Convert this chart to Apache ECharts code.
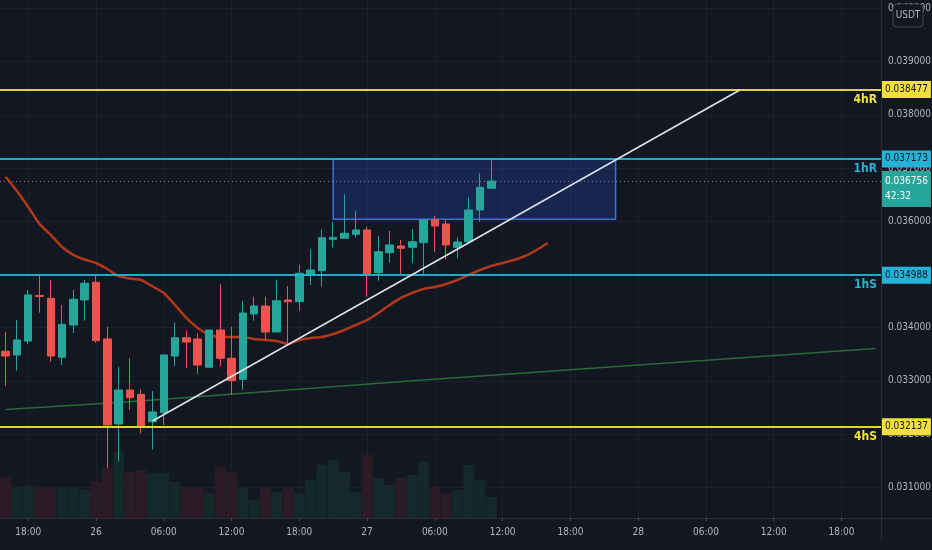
<!DOCTYPE html>
<html>
<head>
<meta charset="utf-8">
<script src="https://cdn.jsdelivr.net/npm/echarts@6/dist/echarts.min.js"></script>
<style>
html,body{margin:0;padding:0;background:#131722;}
#c{width:932px;height:550px;}
</style>
</head>
<body>
<div id="c"></div>
<script>
// ---- data ----
// hourly categories from 25 16:00 to 28 21:00
const categories = [];
for (let i = 0; i < 78; i++) {
  const t = 16 + i;
  const d = 25 + Math.floor(t / 24);
  const h = t % 24;
  categories.push(d + ' ' + (h < 10 ? '0' + h : h) + ':00');
}
// [open, close, low, high]
const candles = [
 [0.033557, 0.033468, 0.032904, 0.033925],
 [0.033487, 0.033769, 0.033192, 0.034145],
 [0.033750, 0.034615, 0.033694, 0.034709],
 [0.034605, 0.034587, 0.034282, 0.034972],
 [0.034553, 0.033468, 0.033361, 0.034897],
 [0.033444, 0.034064, 0.033299, 0.034427],
 [0.034051, 0.034534, 0.033901, 0.034709],
 [0.034521, 0.034835, 0.034132, 0.034897],
 [0.034854, 0.033756, 0.033718, 0.034972],
 [0.033788, 0.032171, 0.031363, 0.034019],
 [0.032190, 0.032829, 0.031481, 0.033267],
 [0.032829, 0.032684, 0.032453, 0.033425],
 [0.032748, 0.032153, 0.032015, 0.032842],
 [0.032233, 0.032416, 0.031714, 0.032810],
 [0.032403, 0.033487, 0.032171, 0.033487],
 [0.033468, 0.033812, 0.033280, 0.034094],
 [0.033812, 0.033731, 0.033237, 0.033944],
 [0.033788, 0.033299, 0.033130, 0.033895],
 [0.033256, 0.033957, 0.033256, 0.033957],
 [0.033957, 0.033425, 0.033280, 0.034816],
 [0.033425, 0.033004, 0.032735, 0.034019],
 [0.033030, 0.034277, 0.032829, 0.034508],
 [0.034258, 0.034408, 0.034132, 0.034583],
 [0.034408, 0.033919, 0.033769, 0.034583],
 [0.033919, 0.034508, 0.033919, 0.034897],
 [0.034521, 0.034489, 0.033707, 0.034784],
 [0.034489, 0.035023, 0.034320, 0.035179],
 [0.034991, 0.035085, 0.034803, 0.035474],
 [0.035072, 0.035692, 0.034771, 0.035850],
 [0.035662, 0.035699, 0.035512, 0.035993],
 [0.035681, 0.035775, 0.035681, 0.036508],
 [0.035756, 0.035837, 0.035699, 0.036194],
 [0.035837, 0.035010, 0.034583, 0.035899],
 [0.035034, 0.035429, 0.034884, 0.035724],
 [0.035410, 0.035555, 0.035222, 0.035818],
 [0.035536, 0.035493, 0.035010, 0.035649],
 [0.035512, 0.035617, 0.035222, 0.035856],
 [0.035598, 0.036025, 0.035010, 0.036025],
 [0.036025, 0.035912, 0.035429, 0.036100],
 [0.035950, 0.035555, 0.035286, 0.036025],
 [0.035512, 0.035611, 0.035305, 0.035699],
 [0.035617, 0.036213, 0.035617, 0.036451],
 [0.036213, 0.036639, 0.035993, 0.036902],
 [0.036621, 0.036756, 0.036621, 0.037152]
];
const volumes = [41,30,33,30,30,30,30,28,36,50,66,46,48,45,45,36,30,30,25,51,46,30,
                 18,30,26,31,25,38,53,58,46,26,63,40,33,40,43,56,31,25,28,53,38,21];
const maValues = [0.036839,0.036570,0.036269,0.035950,0.035743,0.035517,0.035367,0.035282,
  0.035216,0.035104,0.034972,0.034925,0.034897,0.034775,0.034653,0.034427,0.034183,0.033995,
  0.033872,0.033825,0.033825,0.033825,0.033788,0.033769,0.033750,0.033694,0.033769,0.033807,
  0.033825,0.033882,0.033957,0.034051,0.034145,0.034277,0.034427,0.034559,0.034653,0.034728,
  0.034765,0.034822,0.034897,0.034991,0.035085,0.035160,0.035216,0.035273,0.035348,0.035461,0.035592];
// long MA read at a few points (index -> value)
const longMaIdx = [0, 11, 22, 37, 77];
const longMaVal = [0.032461, 0.032609, 0.032782, 0.033017, 0.033611];
const levelValues = [0.038477, 0.037173, 0.034988, 0.032137];
const levelNames = ['4hR', '1hR', '1hS', '4hS'];
const lastPrice = 0.036756;
const countdown = '42:32';
const zoneIdx = [29, 54];
const zoneVal = [0.037173, 0.036040];
const trendIdx = [13, 65];
const trendVal = [0.032246, 0.038468];
const yTicks = { min: 0.030, max: 0.041, step: 0.001 };

// ---- styles ----
const BG = '#131722', GRID = '#1d212c', AXIS = '#2a2e39', TXT = '#b2b5be';
const UP = '#26a69a', DN = '#ef5350';
const YEL = '#f2e03a', CYA = '#22b3d6';
const FONT = "'DejaVu Sans Condensed','Liberation Sans Narrow',sans-serif";
const FS = 10;
const levelColors = [YEL, CYA, CYA, YEL];

const longMa = categories.map(() => null);
longMaIdx.forEach((ix, k) => { longMa[ix] = longMaVal[k]; });

const showTick = (i) => parseInt(categories[i].slice(3, 5), 10) % 6 === 0;

const lineData = [];
levelValues.forEach((v, k) => {
  lineData.push({
    yAxis: v,
    lineStyle: { color: levelColors[k], width: 1.5, type: 'solid' },
    label: { show: true, position: 'end', distance: 1, formatter: v.toFixed(6),
      backgroundColor: levelColors[k], color: '#10141e', padding: [4, 3, 3, 3],
      fontSize: FS, fontFamily: FONT }
  });
  lineData.push({
    yAxis: v,
    lineStyle: { color: levelColors[k], width: 1.5, type: 'solid' },
    label: { show: true, position: 'insideEndBottom', distance: 4, formatter: levelNames[k],
      color: levelColors[k], fontWeight: 'bold', fontSize: 12, fontFamily: FONT }
  });
});
lineData.push({
  yAxis: lastPrice,
  lineStyle: { color: '#7d828f', width: 1, type: [1, 3] },
  label: { show: true, position: 'end', distance: 1, formatter: lastPrice.toFixed(6) + '\n' + countdown,
    backgroundColor: UP, color: '#ffffff', padding: [3, 3, 3, 3], lineHeight: 15,
    fontSize: FS, fontFamily: FONT, offset: [0, 8] }
});
lineData.push([
  { coord: [categories[trendIdx[0]], trendVal[0]], lineStyle: { color: '#e0e3eb', width: 1.5, type: 'solid' } },
  { coord: [categories[trendIdx[1]], trendVal[1]] }
]);

const chart = echarts.init(document.getElementById('c'), null, { renderer: 'canvas' });
chart.setOption({
  backgroundColor: BG,
  animation: false,
  textStyle: { fontFamily: FONT },
  grid: [
    { left: 0, right: 51, top: -44.7, bottom: 9.5, containLabel: false, outerBoundsMode: 'none' },
    { left: 0, right: 51, top: 0, bottom: 32, containLabel: false, outerBoundsMode: 'none' }
  ],
  xAxis: [
    { type: 'category', gridIndex: 0, data: categories, boundaryGap: true,
      axisLine: { show: false }, axisTick: { show: false }, axisLabel: { show: false },
      splitLine: { show: false } },
    { type: 'category', gridIndex: 1, data: categories, boundaryGap: true,
      axisLine: { show: true, lineStyle: { color: AXIS, width: 1 } },
      axisTick: { show: true, alignWithLabel: true, interval: showTick, length: 3, lineStyle: { color: '#4a4e59' } },
      axisLabel: { show: true, interval: showTick, color: TXT, fontSize: FS, margin: 9, fontFamily: FONT,
        formatter: (v) => v.slice(3, 5) === '00' ? v.slice(0, 2) : v.slice(3) },
      splitLine: { show: true, interval: showTick, alignWithLabel: true, lineStyle: { color: GRID, width: 1 } } }
  ],
  yAxis: [
    { type: 'value', gridIndex: 0, position: 'right', min: yTicks.min, max: yTicks.max, interval: yTicks.step,
      axisLine: { show: true, lineStyle: { color: AXIS, width: 1 } },
      axisTick: { show: false },
      axisLabel: { show: true, inside: false, margin: 7, color: TXT, fontSize: FS, fontFamily: FONT,
        formatter: (v) => (v < yTicks.min + yTicks.step / 2) ? '' : v.toFixed(6) },
      splitLine: { show: true, showMinLine: false, lineStyle: { color: GRID, width: 1 } } },
    { type: 'value', gridIndex: 1, min: 0, max: 518, show: false, splitLine: { show: false } }
  ],
  series: [
    { type: 'bar', name: 'Volume', xAxisIndex: 1, yAxisIndex: 1, data: volumes, barWidth: 11, z: 1,
      itemStyle: { color: (p) => candles[p.dataIndex][1] >= candles[p.dataIndex][0] ? '#13292a' : '#2a1b25' } },
    { type: 'line', name: 'MA long', xAxisIndex: 0, yAxisIndex: 0, data: longMa, connectNulls: true,
      showSymbol: false, symbol: 'none', z: 3, lineStyle: { color: '#2a6a34', width: 1.5 } },
    { type: 'line', name: 'MA', xAxisIndex: 0, yAxisIndex: 0, data: maValues, smooth: 0.2,
      showSymbol: false, symbol: 'none', z: 3, lineStyle: { color: '#b3381a', width: 2.5 },
      markArea: { silent: true,
        itemStyle: { color: 'rgba(41,98,255,0.20)', borderColor: '#3f6fd9', borderWidth: 1.5 },
        data: [[ { xAxis: categories[zoneIdx[0]], yAxis: zoneVal[0] },
                 { xAxis: categories[zoneIdx[1]], yAxis: zoneVal[1] } ]] },
      markLine: { silent: true, symbol: ['none', 'none'], animation: false, precision: 6,
        lineStyle: { color: '#e0e3eb', width: 1.5, type: 'solid' },
        label: { show: false },
        data: lineData } },
    { type: 'candlestick', name: 'Price', xAxisIndex: 0, yAxisIndex: 0, data: candles, barWidth: 8, z: 4,
      itemStyle: { color: UP, color0: DN, borderColor: UP, borderColor0: DN, borderWidth: 1 } }
  ],
  graphic: [
    { type: 'line', z: 50, shape: { x1: 881, y1: 518.5, x2: 932, y2: 518.5 }, style: { stroke: AXIS, lineWidth: 1 } },
    { type: 'rect', z: 100, shape: { x: 893, y: 4, width: 30, height: 23, r: 4 },
      style: { fill: BG, stroke: '#434651', lineWidth: 1 } },
    { type: 'text', z: 101, x: 908, y: 15.5,
      style: { text: 'USDT', fill: TXT, font: "10px 'DejaVu Sans Condensed', sans-serif", align: 'center', verticalAlign: 'middle' } }
  ]
});
</script>
</body>
</html>
